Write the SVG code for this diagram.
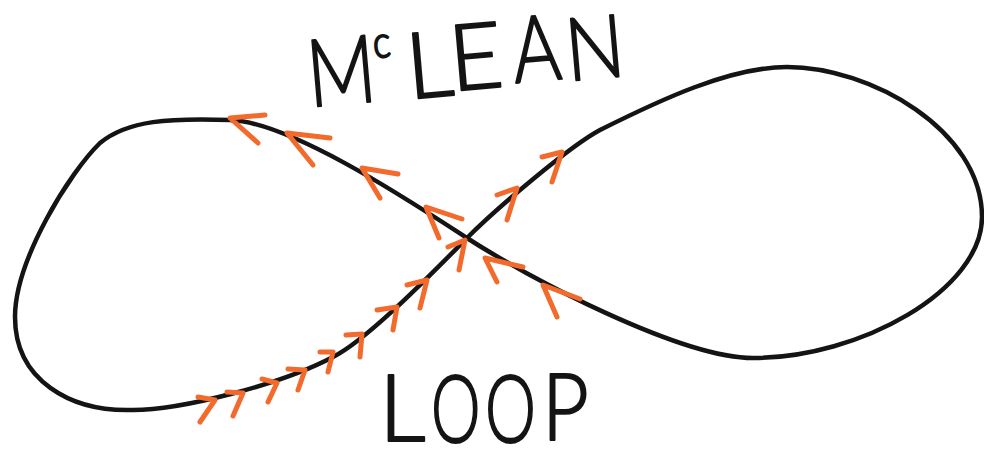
<svg xmlns="http://www.w3.org/2000/svg" width="984" height="453" viewBox="0 0 984 453">
<style>
.curve{fill:none;stroke:#141414;stroke-width:4.5;stroke-linecap:round;stroke-linejoin:round}
.arr{fill:none;stroke:#f26a2c;stroke-width:5;stroke-linecap:round;stroke-linejoin:round}
.lbl{font-family:"Lato","Open Sans","Liberation Sans",sans-serif;font-weight:300;font-size:92px;fill:#141414;stroke:#141414;stroke-width:2;stroke-linejoin:round}
</style>
<rect width="984" height="453" fill="#ffffff"/>
<g id="loop-curve">
<path class="curve" d="M467 238 C497 208 570 146 600 130 C660 100 730 67 787 67 C870 67 982 130 982 217 C982 290 860 358 753 358 C680 358 527 277 467 238 C407 199 290 122 230 120 C170 118 128 120 100 143 C70 172 15 260 15 317 C15 380 70 412 133 410 C180 410 280 385 333 357 C369 339 437 268 467 238 Z"/>
</g>
<g id="arrows">
<path class="arr" d="M265 115 L230 118 L258 143"/>
<path class="arr" d="M330 138 L287 133 L313 165"/>
<path class="arr" d="M398 174 L362 168 L380 198"/>
<path class="arr" d="M462 219 L426 207 L439 238"/>
<path class="arr" d="M448 247 L465 240 L459 270"/>
<path class="arr" d="M523 267 L485 258 L497 282"/>
<path class="arr" d="M580 299 L543 285 L557 317"/>
<path class="arr" d="M497 195 L517 188 L507 220"/>
<path class="arr" d="M542 157 L562 152 L552 182"/>
<path class="arr" d="M198 397 L215 400 L200 422"/>
<path class="arr" d="M227 392 L243 393 L233 416"/>
<path class="arr" d="M262 379 L277 383 L268 402"/>
<path class="arr" d="M288 369 L305 370 L298 390"/>
<path class="arr" d="M320 352 L333 352 L328 372"/>
<path class="arr" d="M346 335 L362 334 L360 357"/>
<path class="arr" d="M377 310 L397 307 L393 330"/>
<path class="arr" d="M407 285 L427 280 L420 308"/>
</g>
<g id="title-mclean">
<text class="lbl" transform="translate(310,107) rotate(-5) scale(0.82,1.02)">M</text>
<text class="lbl" style="font-size:44px" transform="translate(374,58) rotate(-5) scale(0.85,1)">c</text>
<text class="lbl" transform="translate(409,99) rotate(-5)">L</text>
<text class="lbl" transform="translate(452,91) rotate(-5)">E</text>
<text class="lbl" transform="translate(515,83) rotate(-5) scale(0.8,1)">A</text>
<text class="lbl" transform="translate(568,81) rotate(-5) scale(0.85,0.95)">N</text>
</g>
<g id="title-loop">
<text class="lbl" transform="translate(379,441)">L</text>
<text class="lbl" transform="translate(431,442) scale(0.68,1)">O</text>
<text class="lbl" transform="translate(485,442) scale(0.7,1)">O</text>
<text class="lbl" transform="translate(542,440) scale(0.88,1)">P</text>
</g>
</svg>
